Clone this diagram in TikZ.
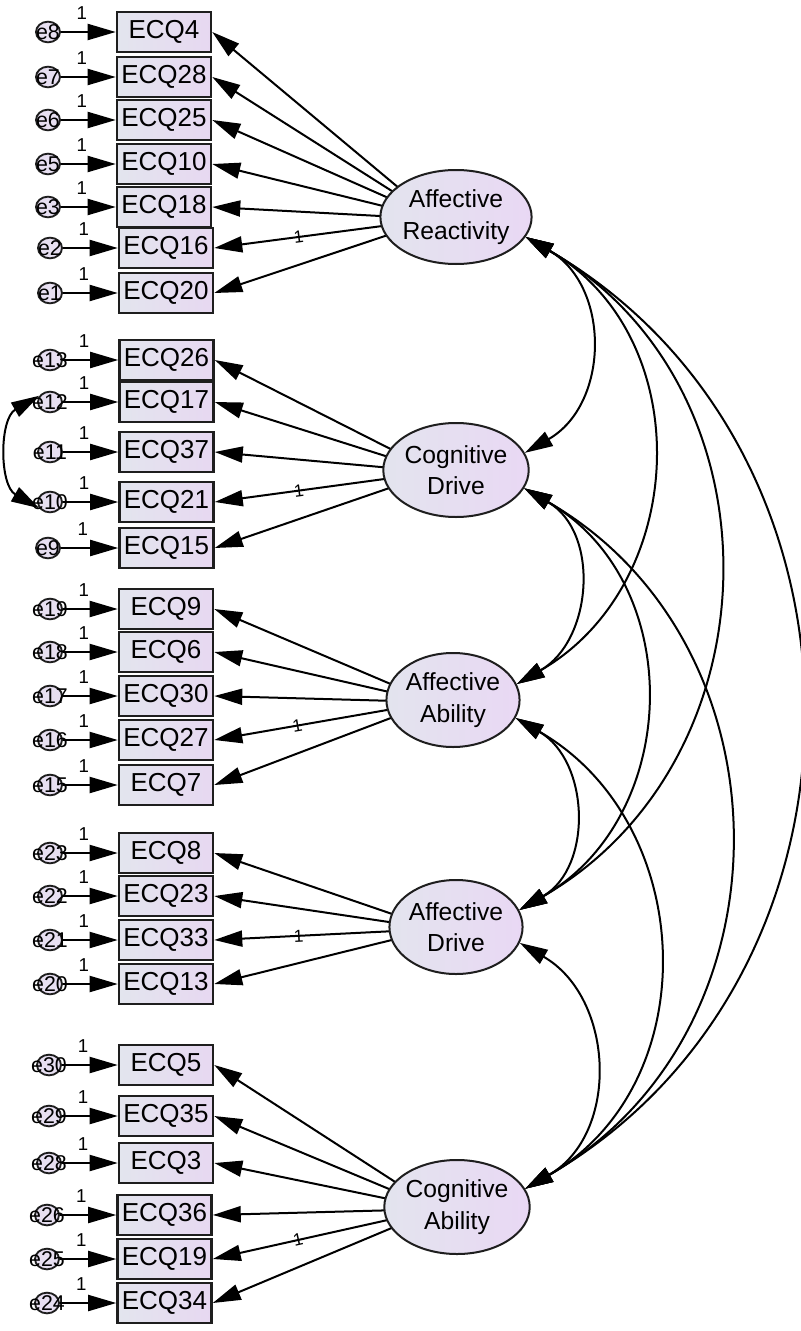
\documentclass[tikz,border=0pt]{standalone}
\usepackage{fontspec}
\setmainfont{Liberation Sans}
\usetikzlibrary{arrows.meta,shapes.geometric,backgrounds}
\definecolor{boxL}{HTML}{E3E5EE}
\definecolor{boxR}{HTML}{E7D8F1}
\definecolor{latL}{HTML}{E3E4EE}
\definecolor{latR}{HTML}{E9D8F4}
\definecolor{errF}{HTML}{E7DFF1}
\definecolor{lineC}{HTML}{1E1E1E}
\begin{document}
\begin{tikzpicture}[x=0.75pt,y=-0.75pt,
  >={Triangle[length=21pt,width=12pt]},
  obs/.style={rectangle, draw=lineC, line width=1.9pt, left color=boxL, right color=boxR,
    minimum width=70.5pt, minimum height=30pt, inner sep=0pt, font=\fontsize{19.5}{21}\selectfont},
  lat/.style={ellipse, draw=lineC, line width=1.5pt, left color=latL, right color=latR,
    minimum width=96pt, minimum height=70.5pt, inner sep=0pt, align=center,
    font=\fontsize{18.5}{23.5}\selectfont},
  err/.style={ellipse, draw=lineC, line width=1.4pt, fill=errF,
    minimum width=18pt, minimum height=15.5pt, inner sep=0pt},
  elab/.style={font=\fontsize{16}{16}\selectfont, inner sep=0pt},
  one/.style={font=\fontsize{14}{14}\selectfont, inner sep=0pt},
  lone/.style={font=\fontsize{13}{13}\selectfont, inner sep=0pt, sloped},
  arr/.style={->, draw=black, line width=1.5pt},
  cov/.style={<->, draw=black, line width=1.5pt}]
\useasboundingbox (0,0) rectangle (800,1331);

% latent variables
\node[lat] (ar) at (456,217) {Affective\\Reactivity};
\node[lat] (cd) at (456,470) {Cognitive\\Drive};
\node[lat] (aa) at (453,700) {Affective\\Ability};
\node[lat] (ad) at (456,927) {Affective\\Drive};
\node[lat] (ca) at (457,1207) {Cognitive\\Ability};
\coordinate (arc) at (436,219);
\coordinate (cdc) at (436,472);
\coordinate (aac) at (433,702);
\coordinate (adc) at (436,929);
\coordinate (cac) at (437,1209);

% indicators: item / box x / y / error / error x / latent / labelled loading
\foreach \q/\bx/\y/\e/\ex/\lat/\m in {
  4/164/32/8/48/ar/0, 28/164/77/7/48/ar/0, 25/164/120/6/48/ar/0, 10/164/164/5/48/ar/0,
  18/164/207/3/48/ar/0, 16/166/248/2/50/ar/1, 20/166/293/1/50/ar/0,
  26/166.5/360/13/50/cd/0, 17/166.5/402/12/50/cd/0, 37/166.5/452/11/50/cd/0,
  21/166.5/502/10/50/cd/1, 15/166.5/548/9/48/cd/0,
  9/166/609/19/50/aa/0, 6/166/652/18/50/aa/0, 30/166/696/17/50/aa/0,
  27/166/740/16/50/aa/1, 7/166/785/15/50/aa/0,
  8/166/853/23/50/ad/0, 23/166/896/22/50/ad/0, 33/166/940/21/50/ad/1, 13/166/984/20/50/ad/0,
  5/166/1065/30/49/ca/0, 35/166/1116/29/49/ca/0, 3/166/1163/28/49/ca/0,
  36/164.5/1215/26/47/ca/0, 19/164.5/1259/25/47/ca/1, 34/164.5/1303/24/47/ca/0}{
  \node[obs] (q\q) at (\bx,\y) {ECQ\q};
  \node[err, label={[elab]center:e\e}] (e\e) at (\ex,\y) {};
  \draw[arr] (e\e) -- node[one, pos=0.38, yshift=14pt] {1} (q\q);
  \begin{pgfonlayer}{background}
    \ifnum\m=1
      \draw[arr] (\lat c) -- node[lone, pos=0.62] {1} (q\q.east);
    \else
      \draw[arr] (\lat c) -- (q\q.east);
    \fi
  \end{pgfonlayer}
}

% error covariance
\draw[cov] (e12.150) .. controls +(-40,23) and +(-40,-23) .. (e10.210);

% latent covariances
\draw[cov] (ar.-16) .. controls +(85,49) and +(85,-49) .. (cd.14);
\draw[cov] (ar.-16) .. controls +(173,100) and +(173,-100) .. (aa.14);
\draw[cov] (ar.-16) .. controls +(260,150) and +(260,-150) .. (ad.15);
\draw[cov] (ar.-16) .. controls +(365,212) and +(365,-212) .. (ca.15);
\draw[cov] (cd.-15) .. controls +(76,44) and +(76,-44) .. (aa.14);
\draw[cov] (cd.-15) .. controls +(163,94) and +(163,-94) .. (ad.15);
\draw[cov] (cd.-15) .. controls +(271,156) and +(271,-156) .. (ca.15);
\draw[cov] (aa.-16) .. controls +(74,43) and +(74,-43) .. (ad.15);
\draw[cov] (aa.-16) .. controls +(182,105) and +(182,-105) .. (ca.15);
\draw[cov] (ad.-14) .. controls +(95,55) and +(95,-55) .. (ca.15);
\end{tikzpicture}
\end{document}
